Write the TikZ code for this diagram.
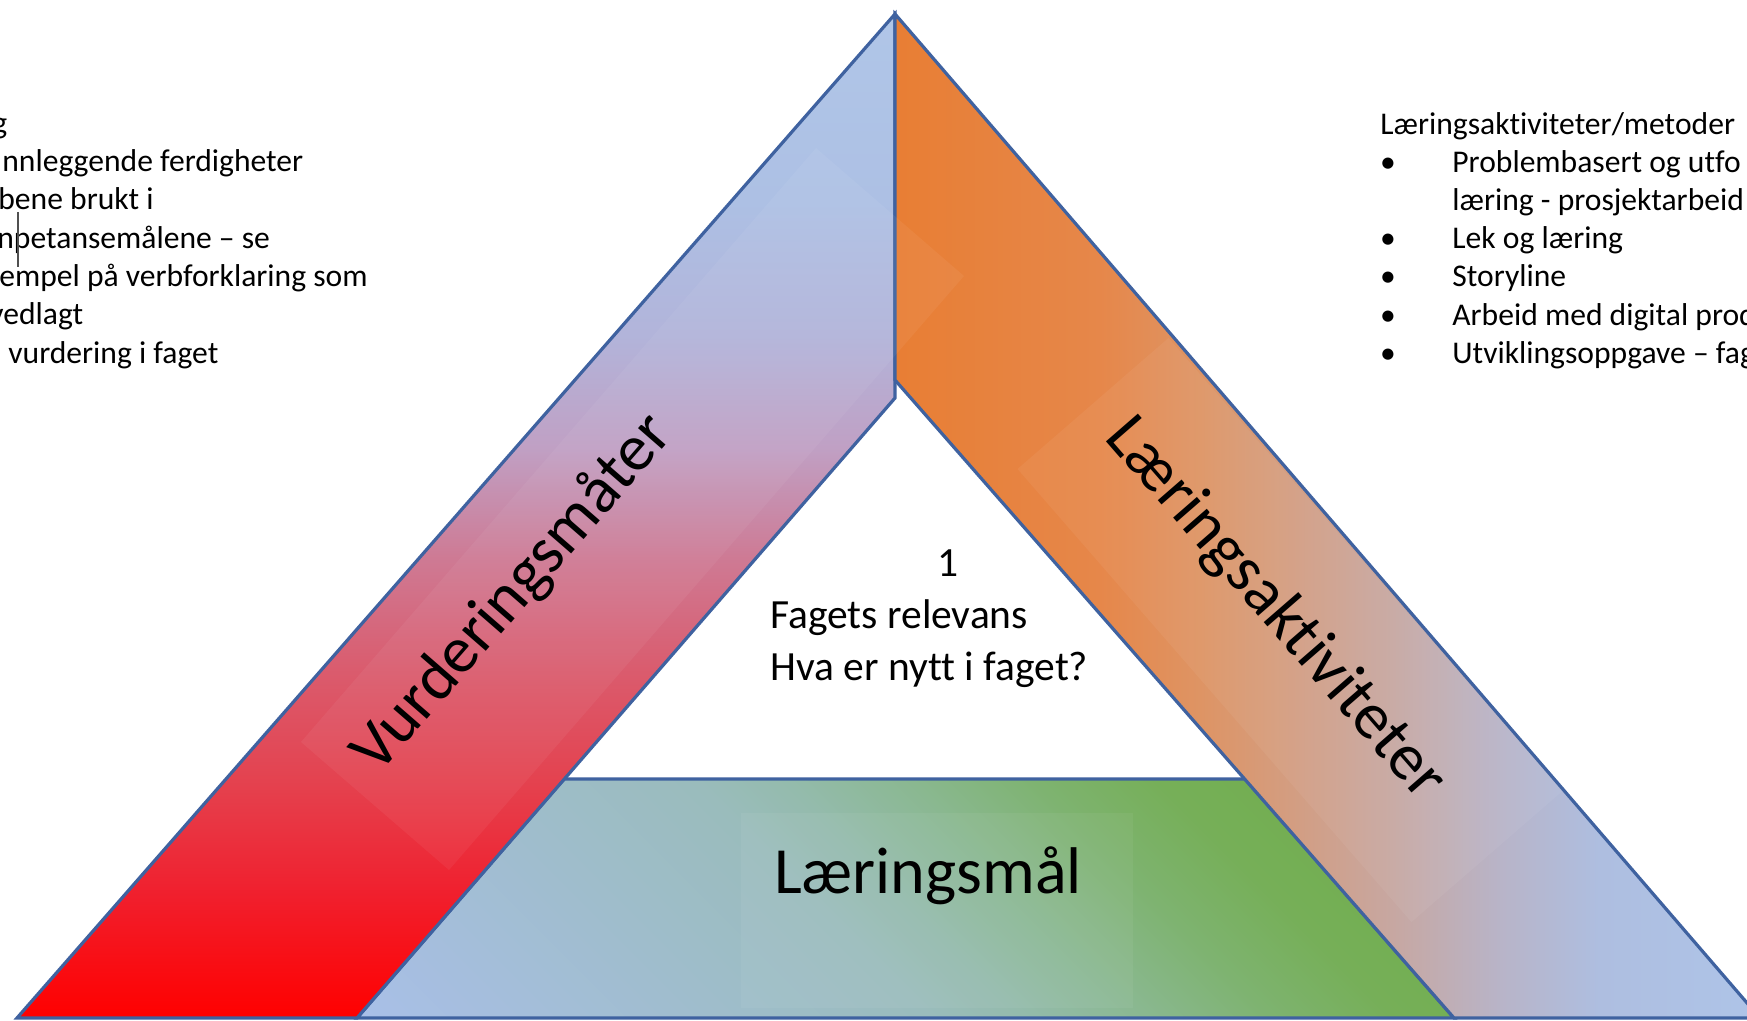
\documentclass[tikz,border=0pt]{standalone}
\usepackage{fontspec}
\setmainfont{Carlito}[Ligatures={NoCommon}]
\definecolor{bordercol}{HTML}{3F62A0}
\definecolor{cursorcol}{HTML}{505050}
% left band (bottom -> top)
\definecolor{lbA}{HTML}{FF0000}
\definecolor{lbB}{HTML}{F0202E}
\definecolor{lbC}{HTML}{E4424F}
\definecolor{lbD}{HTML}{DA5C6E}
\definecolor{lbE}{HTML}{CE7A94}
\definecolor{lbF}{HTML}{C0A0C4}
\definecolor{lbG}{HTML}{B2B4DA}
\definecolor{lbH}{HTML}{ADC0E4}
\definecolor{lbI}{HTML}{B0C6E8}
% right band (left -> right)
\definecolor{rbA}{HTML}{E87E34}
\definecolor{rbB}{HTML}{E6874A}
\definecolor{rbC}{HTML}{DE9464}
\definecolor{rbD}{HTML}{D29E84}
\definecolor{rbE}{HTML}{C6A8A4}
\definecolor{rbF}{HTML}{B8B4C8}
\definecolor{rbG}{HTML}{AEBEE0}
\definecolor{rbH}{HTML}{AEC4E8}
% green band (lower left -> upper right)
\definecolor{gbA}{HTML}{AAC0EA}
\definecolor{gbB}{HTML}{A9BFE8}
\definecolor{gbC}{HTML}{9FBDCC}
\definecolor{gbD}{HTML}{9ABCBC}
\definecolor{gbE}{HTML}{94BBAC}
\definecolor{gbF}{HTML}{8AB890}
\definecolor{gbG}{HTML}{7EB370}
\definecolor{gbH}{HTML}{76AF58}
\definecolor{gbI}{HTML}{72AE50}
\definecolor{gbJ}{HTML}{70AD47}
\pgfdeclareverticalshading{lbshade}{100bp}{color(0bp)=(lbA); color(25bp)=(lbA); color(31.3bp)=(lbB); color(36.8bp)=(lbC); color(42.4bp)=(lbD); color(47.9bp)=(lbE); color(53.4bp)=(lbF); color(59bp)=(lbG); color(65.7bp)=(lbH); color(75bp)=(lbI); color(100bp)=(lbI)}
\pgfdeclarehorizontalshading{rbshade}{100bp}{color(0bp)=(rbA); color(25bp)=(rbA); color(36.85bp)=(rbB); color(42.6bp)=(rbC); color(48.4bp)=(rbD); color(54.2bp)=(rbE); color(60bp)=(rbF); color(65.75bp)=(rbG); color(75bp)=(rbH); color(100bp)=(rbH)}
\pgfdeclarehorizontalshading{gbshade}{100bp}{color(0bp)=(gbA); color(25bp)=(gbA); color(28.5bp)=(gbB); color(40bp)=(gbC); color(47bp)=(gbD); color(50bp)=(gbE); color(54bp)=(gbF); color(58bp)=(gbG); color(62bp)=(gbH); color(66bp)=(gbI); color(75bp)=(gbJ); color(100bp)=(gbJ)}
\tikzset{
  bandedge/.style={draw=bordercol, line width=1.6pt, line join=miter},
  bodytext/.style={anchor=base west, inner sep=0pt, font=\fontsize{15.8}{19.2}\selectfont, text=black},
  bulletmark/.style={anchor=base, inner sep=0pt, font=\fontsize{15.8}{19.2}\selectfont, text=black},
  centertext/.style={inner sep=0pt, font=\fontsize{20.75}{26}\selectfont, text=black},
  bandlabel/.style={inner sep=0pt, font=\fontsize{33}{40}\selectfont, text=black},
  lightbox/.style={fill=white, fill opacity=0.05},
  cursorline/.style={draw=cursorcol, line width=0.6pt},
}
\begin{document}
\begin{tikzpicture}[x=0.5pt, y=-0.5pt]
\useasboundingbox (0,0) rectangle (1747,1021);
\fill[white] (0,0) rectangle (1747,1021);

% Laeringsmaal band (bottom)
\begin{scope}
  \clip (564,779) -- (1245,779) -- (1454,1018) -- (357,1018) -- cycle;
  \shade[shading=gbshade, shading angle=45] (355,348) rectangle (1455,1448);
\end{scope}
\draw[bandedge] (564,779) -- (1245,779) -- (1454,1018) -- (357,1018) -- cycle;

% Vurderingsmaater band (left)
\shadedraw[shading=lbshade, bandedge] (895,14) -- (17,1018) -- (357,1018) -- (895,398) -- cycle;
% Laeringsaktiviteter band (right)
\shadedraw[shading=rbshade, bandedge] (895,14) -- (1760,1018) -- (1454,1018) -- (895,380) -- cycle;

% faint text boxes
\fill[lightbox] (816,148) -- (964,276) -- (449,870) -- (301,742) -- cycle;
\fill[lightbox] (1168.5,338) -- (1017.5,469) -- (1411.5,922) -- (1562.5,791) -- cycle;
\fill[lightbox] (741,813) rectangle (1133,1008);

% band labels
\node[bandlabel, rotate=49] (vurd) at (513,594) {Vurderingsmåter};
\node[bandlabel, rotate=-49] (laktiv) at (1275,609) {Læringsaktiviteter};
\node[bandlabel, anchor=base] (lmaal) at (928,893) {Læringsmål};

% centre text
\node[centertext, anchor=base] (num) at (948,577) {1};
\node[centertext, anchor=base west] (relevans) at (770,629) {Fagets relevans};
\node[centertext, anchor=base west] (nytt) at (770,681) {Hva er nytt i faget?};

% left text (cut by the page edge)
\node[bodytext] (l1) at (-8,134) {g};
\node[bodytext] (l2) at (2,172) {nnleggende ferdigheter};
\node[bodytext] (l3) at (-2,210) {bene brukt i};
\node[bodytext] (l4) at (-3,249) {npetansemålene – se};
\node[bodytext] (l5) at (-1,287) {empel på verbforklaring som};
\node[bodytext] (l6) at (-11,325) {vedlagt};
\node[bodytext] (l7) at (8,364) {vurdering i faget};
\draw[cursorline] (18,212) -- (18,267);

% right text
\node[bodytext] (rt) at (1380,135) {Læringsaktiviteter/metoder};
\node[bulletmark] (b1) at (1388,173) {•};
\node[bodytext] (r1) at (1452,173) {Problembasert og utfo};
\node[bodytext] (r2) at (1452,211) {læring - prosjektarbeid};
\node[bulletmark] (b2) at (1388,249) {•};
\node[bodytext] (r3) at (1452,249) {Lek og læring};
\node[bulletmark] (b3) at (1388,287) {•};
\node[bodytext] (r4) at (1452,287) {Storyline};
\node[bulletmark] (b4) at (1388,326) {•};
\node[bodytext] (r5) at (1452,326) {Arbeid med digital prod};
\node[bulletmark] (b5) at (1388,364) {•};
\node[bodytext] (r6) at (1452,364) {Utviklingsoppgave – fag};
\end{tikzpicture}
\end{document}
